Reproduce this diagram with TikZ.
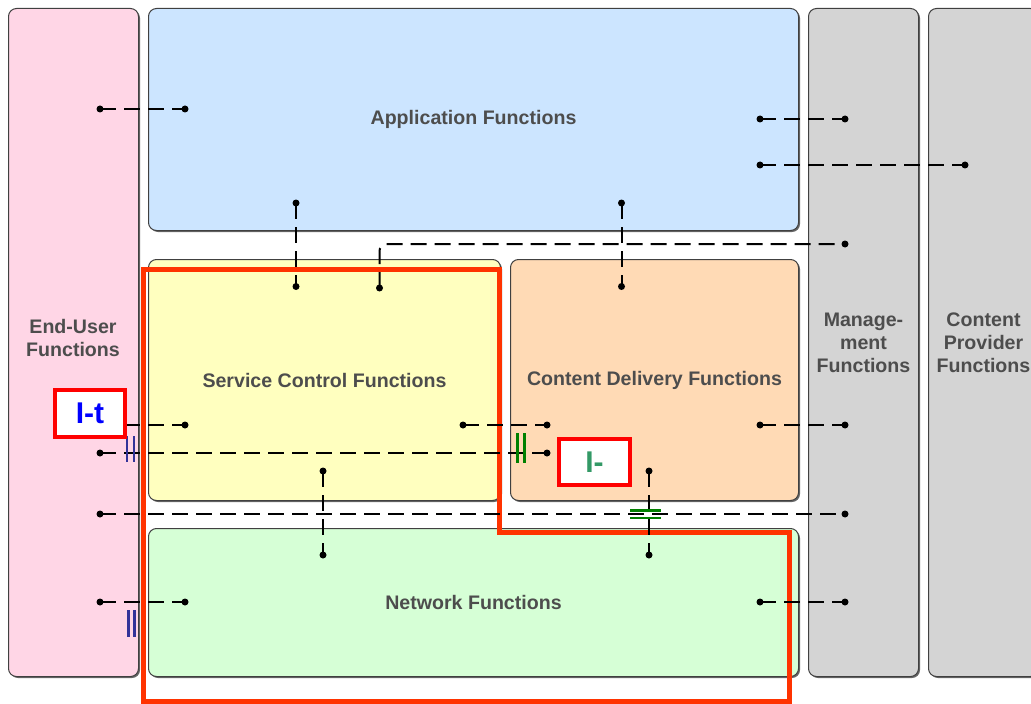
\documentclass[tikz,border=0pt]{standalone}
\usepackage{fontspec}
\setmainfont{Liberation Sans}
\usetikzlibrary{shadows}
\definecolor{pinkf}{HTML}{FFD6E6}
\definecolor{bluef}{HTML}{CCE5FF}
\definecolor{yellowf}{HTML}{FFFFBF}
\definecolor{orangef}{HTML}{FFDAB5}
\definecolor{greenf}{HTML}{D6FFD6}
\definecolor{grayf}{HTML}{D4D4D4}
\definecolor{boxline}{HTML}{404040}
\definecolor{labelgray}{HTML}{4D4D4D}
\definecolor{outlinered}{HTML}{FF3300}
\definecolor{tickblue}{HTML}{333399}
\definecolor{tickgreen}{HTML}{008000}
\definecolor{ilabel}{HTML}{339966}
\begin{document}
\begin{tikzpicture}[x=1bp,y=-1bp,
  box/.style={draw=boxline, line width=1bp, rounded corners=8bp, inner sep=0pt,
    anchor=north west, text=labelgray, align=center,
    font=\bfseries\fontsize{19.6bp}{23bp}\selectfont,
    drop shadow={shadow xshift=1.5bp, shadow yshift=-1.5bp, fill=black!60, opacity=1}},
  boxtext/.style={text=labelgray, align=center, inner sep=0pt,
    font=\bfseries\fontsize{19.6bp}{23bp}\selectfont},
  conn/.style={line width=2bp, dash pattern=on 16bp off 8bp},
  enddot/.style={fill=black},
  tickb/.style={draw=tickblue, line width=2.7bp},
  tickg/.style={draw=tickgreen, line width=2.8bp},
  redline/.style={draw=outlinered, line width=5bp, miter limit=10},
  ibox/.style={draw=red, line width=4bp, fill=white, inner sep=0pt,
    font=\bfseries\fontsize{30bp}{30bp}\selectfont}
]
\useasboundingbox (0,0) rectangle (1031,704);

% boxes
\node[box, fill=pinkf, minimum width=130bp, minimum height=668bp] (eu) at (8,8) {};
\node[boxtext] (eutext) at (73,338) {End-User\\Functions};
\node[box, fill=bluef, minimum width=650bp, minimum height=222bp] (app) at (148,8) {Application Functions};
\node[box, fill=yellowf, minimum width=352bp, minimum height=241bp] (sc) at (148,259) {Service Control Functions};
\node[box, fill=orangef, minimum width=288bp, minimum height=241bp] (cd) at (510,259) {Content Delivery Functions};
\node[box, fill=greenf, minimum width=650bp, minimum height=148bp] (net) at (148,528) {Network Functions};
\node[box, fill=grayf, minimum width=110bp, minimum height=668bp] (mg) at (808,8) {Manage-\\ment\\Functions};
\node[box, fill=grayf, minimum width=110bp, minimum height=668bp] (cp) at (928,8) {Content\\Provider\\Functions};

% red outline
\draw[redline] (143.5,269.5) -- (499.5,269.5) -- (499.5,532.5) -- (789.5,532.5)
  -- (789.5,701.5) -- (143.5,701.5) -- cycle;

% connector end points
\coordinate (a1) at (100,109);  \coordinate (b1) at (185,109);
\coordinate (a2) at (760,119);  \coordinate (b2) at (845,119);
\coordinate (a3) at (760,165);  \coordinate (b3) at (965,165);
\coordinate (a4) at (296,203);  \coordinate (b4) at (296,286.5);
\coordinate (a5) at (621.5,203);  \coordinate (b5) at (621.5,286.5);
\coordinate (a6) at (379.5,288); \coordinate (b6) at (845,244);
\coordinate (a7) at (100,425);  \coordinate (b7) at (185,425);
\coordinate (a8) at (463,425);  \coordinate (b8) at (547,425);
\coordinate (a9) at (100,453);  \coordinate (b9) at (547,453);
\coordinate (a10) at (323,471); \coordinate (b10) at (323,555);
\coordinate (a11) at (649,471); \coordinate (b11) at (649,555);
\coordinate (a12) at (100,514); \coordinate (b12) at (845,514);
\coordinate (a13) at (100,602); \coordinate (b13) at (185,602);
\coordinate (a14) at (760,425); \coordinate (b14) at (845,425);
\coordinate (a15) at (760,602); \coordinate (b15) at (845,602);

\foreach \i in {1,2,3,4,5,7,8,9,10,11,12,13,14,15} {
  \draw[conn] (a\i) -- (b\i);
  \fill[enddot] (a\i) circle (3.5bp);
  \fill[enddot] (b\i) circle (3.5bp);
}
\draw[conn, rounded corners=7bp] (a6) |- (b6);
\fill[enddot] (a6) circle (3.5bp);
\fill[enddot] (b6) circle (3.5bp);

% interface ticks
\draw[tickb] (127,436) -- (127,462);
\draw[tickb] (134,436) -- (134,462);
\draw[tickb] (128.5,610) -- (128.5,637);
\draw[tickb] (134.5,610) -- (134.5,637);
\draw[tickg] (517.5,433) -- (517.5,463);
\draw[tickg] (524.5,433) -- (524.5,463);
\draw[tickg] (630,510.5) -- (661,510.5);
\draw[tickg] (630,518) -- (661,518);

% interface labels
\node[ibox, minimum width=70bp, minimum height=47bp, text=blue] (it) at (90,413.5) {I-t};
\node[ibox, minimum width=71bp, minimum height=46bp, text=ilabel] (ic) at (594.5,462) {I-};
\end{tikzpicture}
\end{document}
